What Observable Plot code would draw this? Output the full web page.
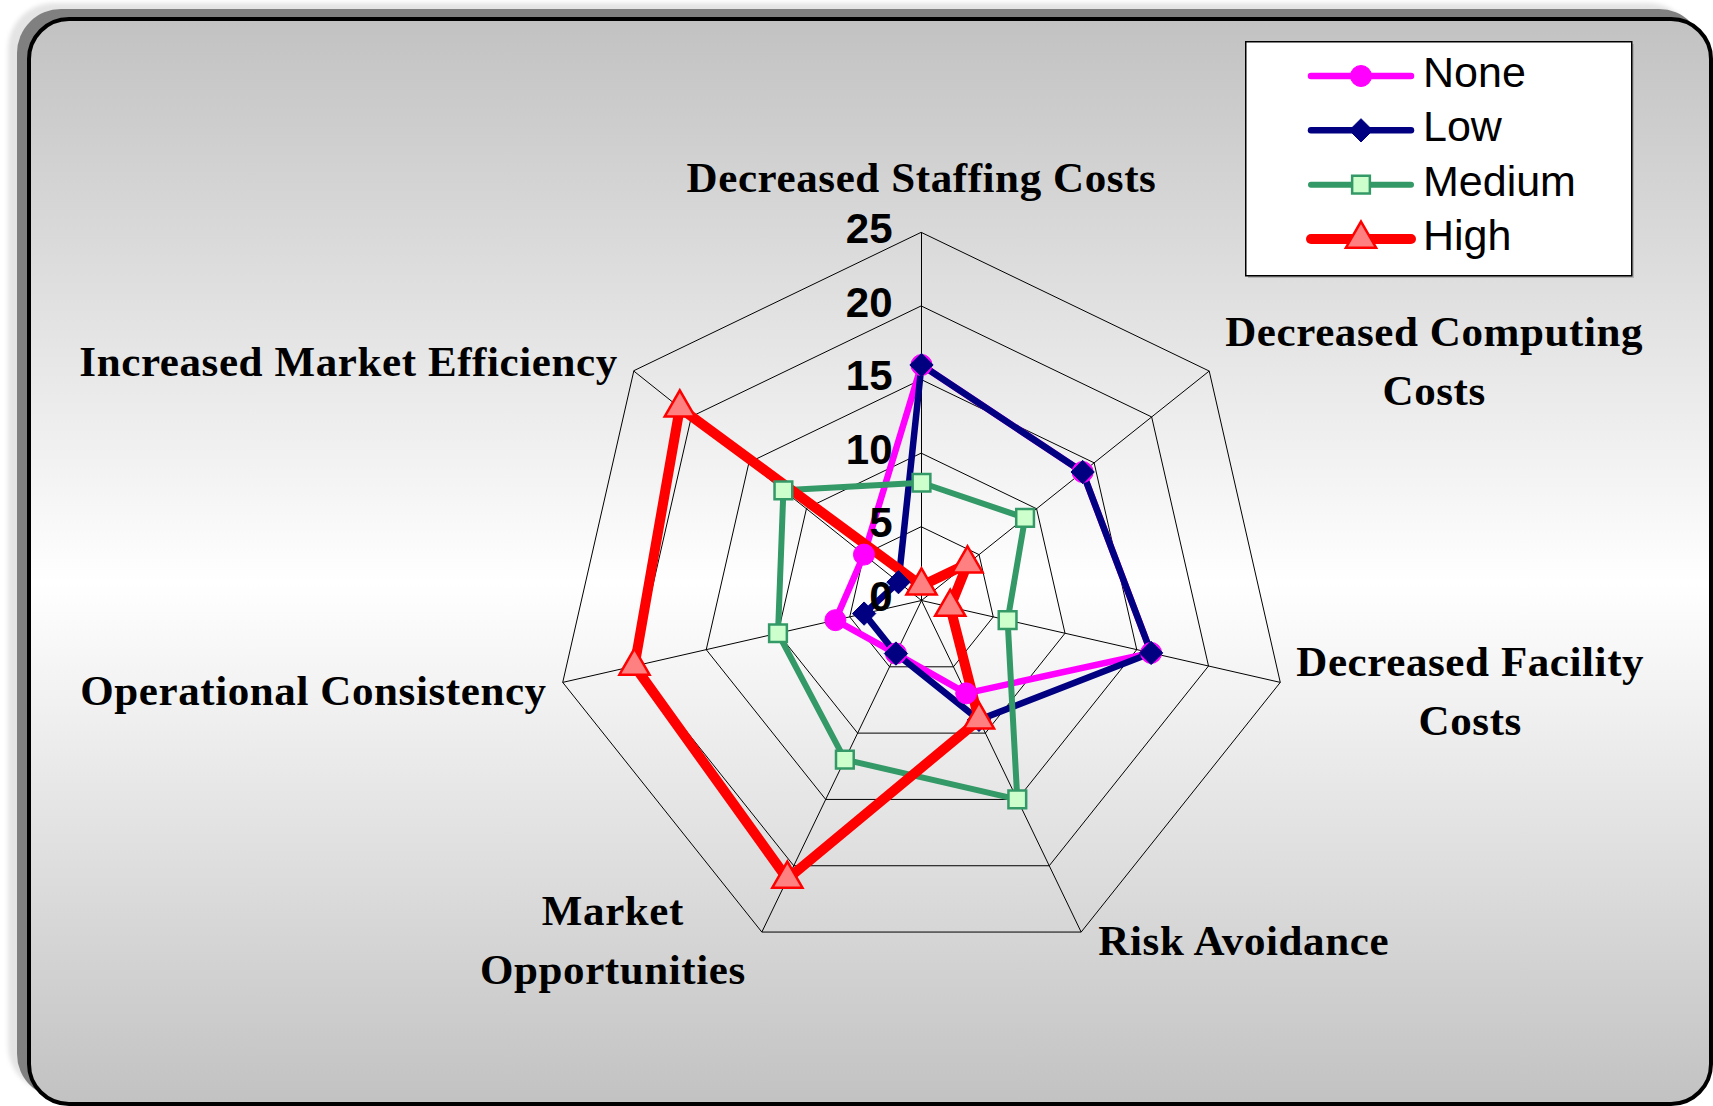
<!DOCTYPE html>
<html>
<head>
<meta charset="utf-8">
<script src="https://cdn.jsdelivr.net/npm/d3@7"></script>
<script src="https://cdn.jsdelivr.net/npm/@observablehq/plot@0.6"></script>
<style>
html, body { margin: 0; padding: 0; background: #fff; overflow: hidden; }
#page { position: relative; width: 1713px; height: 1106px; overflow: hidden; background: #fff; }
.sh1 { position: absolute; left: 8px; top: 3px; width: 1686px; height: 1089px; background: #e4e4e4; border-radius: 46px; filter: blur(2px); }
.sh2 { position: absolute; left: 17px; top: 9px; width: 1686px; height: 1089px; background: #808080; border-radius: 44px; }
.frame { position: absolute; left: 27px; top: 17px; width: 1686px; height: 1089px; box-sizing: border-box;
  border: 4px solid #000; border-radius: 42px;
  background: linear-gradient(to bottom, #c2c2c2 0%, #ffffff 52%, #c2c2c2 100%); }
#chart { position: absolute; left: 0; top: 0; }
#legend { position: absolute; left: 1245px; top: 41px; }
</style>
</head>
<body>
<div id="page">
  <div class="sh1"></div>
  <div class="sh2"></div>
  <div class="frame"></div>
  <div id="chart"></div>
  <div id="legend"></div>
</div>
<script>
// ---------- data ----------
const categories = [
  "Decreased Staffing Costs",
  "Decreased Computing\nCosts",
  "Decreased Facility\nCosts",
  "Risk Avoidance",
  "Market\nOpportunities",
  "Operational Consistency",
  "Increased Market Efficiency"
];
const seriesNames = ["None", "Low", "Medium", "High"];
const noneValues   = [16, 14, 16, 7, 4, 6, 5];
const lowValues    = [16, 14, 16, 9, 4, 4, 2];
const mediumValues = [8, 9, 6, 15, 12, 10, 12];
const highValues   = [1, 4, 2, 9, 21, 20, 21];
const tickValues = [0, 5, 10, 15, 20, 25];

// ---------- styles ----------
const seriesStyle = {
  None:   {line: "#ff00ff", width: 6.5, symbol: "circle",   d3sym: d3.symbolCircle,   r: 10.5, fill: "#ff00ff", stroke: "#ff00ff", sw: 1},
  Low:    {line: "#000080", width: 6.5, symbol: "diamond2", d3sym: d3.symbolDiamond2, r: 10.5, fill: "#000080", stroke: "#000080", sw: 1},
  Medium: {line: "#339966", width: 6,   symbol: "square",   d3sym: d3.symbolSquare,   r: 10,   fill: "#ccffcc", stroke: "#339966", sw: 2.5},
  High:   {line: "#ff0000", width: 10,  symbol: "triangle", d3sym: d3.symbolTriangle, r: 11.2, fill: "#ff8080", stroke: "#ff0000", sw: 2.5}
};
const seriesValues = [noneValues, lowValues, mediumValues, highValues];

// ---------- geometry ----------
const W = 1713, H = 1106;
const cx = 921, cy = 600;          // centre of the radar (px)
const maxV = d3.max(tickValues);
const k = 368 / maxV;              // px per unit
const n = categories.length;
const ang = i => i * 2 * Math.PI / n;
const px = (v, i) => v * Math.sin(ang(i));
const py = (v, i) => v * Math.cos(ang(i));

const ringData = tickValues.filter(t => t > 0)
  .flatMap(t => categories.map((c, i) => ({t, x: px(t, i), y: py(t, i)})));
const spokeData = categories.map((c, i) => ({x2: px(maxV, i), y2: py(maxV, i)}));

const seriesRows = seriesNames.map((s, j) =>
  seriesValues[j].map((v, i) => ({series: s, cat: categories[i], v, x: px(v, i), y: py(v, i)})));

// category labels placement (measured text widths)
const labelFont = "bold 43px 'Liberation Serif'";
const letterSp = 0.6;
const ctx = document.createElement("canvas").getContext("2d");
ctx.font = labelFont;
const pad = 16;
const labelData = categories.map((c, i) => {
  const lines = c.split("\n");
  const w = d3.max(lines, l => ctx.measureText(l).width + l.length * letterSp);
  const s = Math.sin(ang(i)), co = Math.cos(ang(i));
  const side = s > 0.1 ? 1 : s < -0.1 ? -1 : 0;
  const ex = maxV * s * k, ey = maxV * co * k;
  const xpx = ex + side * (pad + w / 2);
  const ypx = side === 0 ? ey + 54 : ey + Math.sign(co) * 9;
  return {label: c, x: xpx / k, y: ypx / k};
});

// ---------- chart ----------
const marks = [
  Plot.line(ringData, {x: "x", y: "y", z: "t", curve: "linear-closed", stroke: "#000", strokeWidth: 1}),
  Plot.link(spokeData, {x1: 0, y1: 0, x2: "x2", y2: "y2", stroke: "#000", strokeWidth: 1})
];
seriesNames.forEach((s, j) => {
  const st = seriesStyle[s];
  marks.push(Plot.line(seriesRows[j], {x: "x", y: "y", curve: "linear-closed", stroke: st.line,
    strokeWidth: st.width, strokeLinejoin: "round"}));
});
seriesNames.forEach((s, j) => {
  const st = seriesStyle[s];
  marks.push(Plot.dot(seriesRows[j], {x: "x", y: "y", symbol: st.symbol, r: st.r, fill: st.fill,
    stroke: st.stroke, strokeWidth: st.sw}));
});
marks.push(Plot.text(tickValues, {x: 0, y: d => d, text: d => String(d), textAnchor: "end", dx: -29, dy: -3,
  fontSize: 42, fontWeight: "bold", fontFamily: "Liberation Sans, Arial, sans-serif", fill: "#000"}));
marks.push(Plot.text(labelData, {x: "x", y: "y", text: "label", textAnchor: "middle", lineAnchor: "middle",
  lineHeight: 1.37, dy: -5, fontSize: 43, fontWeight: "bold", fontFamily: "Liberation Serif", fill: "#000"}));

const chart = Plot.plot({
  width: W, height: H, margin: 0,
  x: {domain: [-cx / k, (W - cx) / k], axis: null},
  y: {domain: [-(H - cy) / k, cy / k], axis: null},
  style: {background: "transparent", overflow: "visible"},
  marks
});
d3.select(chart).selectAll('g[font-family="Liberation Serif"]').attr("letter-spacing", letterSp + "px");
document.getElementById("chart").appendChild(chart);

// ---------- legend ----------
const LW = 390, LH = 238;
const lg = d3.select("#legend").append("svg").attr("width", LW).attr("height", LH);
lg.append("rect").attr("x", 3).attr("y", 3).attr("width", 386).attr("height", 234).attr("fill", "#9a9a9a").attr("opacity", 0.6);
lg.append("rect").attr("x", 0.75).attr("y", 0.75).attr("width", 386).attr("height", 234)
  .attr("fill", "#fff").attr("stroke", "#000").attr("stroke-width", 1.5);
const rowY = d3.scalePoint().domain(seriesNames).range([35, 198]);
seriesNames.forEach(s => {
  const st = seriesStyle[s];
  const y = rowY(s);
  lg.append("line").attr("x1", 66).attr("x2", 166).attr("y1", y).attr("y2", y)
    .attr("stroke", st.line).attr("stroke-width", st.width).attr("stroke-linecap", "round");
  lg.append("path").attr("transform", `translate(116,${y})`)
    .attr("d", d3.symbol(st.d3sym, Math.PI * st.r * st.r)())
    .attr("fill", st.fill).attr("stroke", st.stroke).attr("stroke-width", st.sw);
  lg.append("text").attr("x", 178).attr("y", y + 11).text(s)
    .attr("font-family", "Liberation Sans, Arial, sans-serif").attr("font-size", 43).attr("fill", "#000");
});
</script>
</body>
</html>
